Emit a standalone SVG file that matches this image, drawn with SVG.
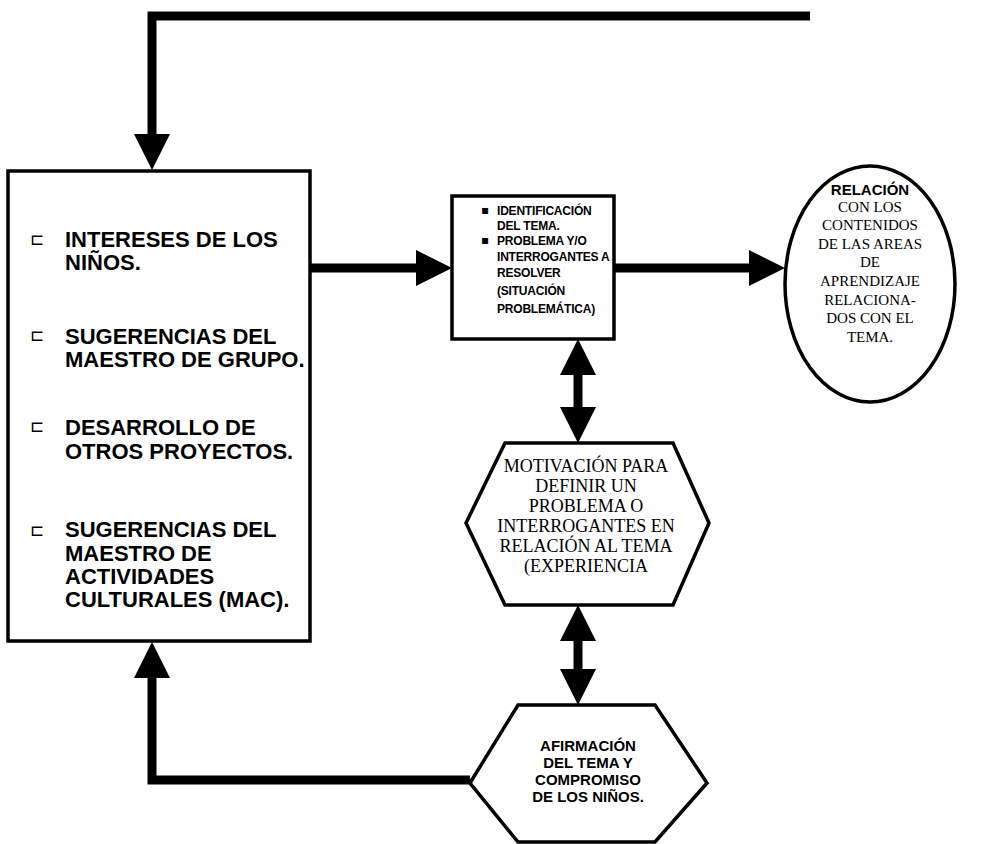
<svg xmlns="http://www.w3.org/2000/svg" width="990" height="844" viewBox="0 0 990 844">
<defs>
<marker id="ah" markerUnits="userSpaceOnUse" markerWidth="38" markerHeight="38" refX="26" refY="18" orient="auto-start-reverse" viewBox="0 0 38 38">
<path d="M0,0 L36,18 L0,36 Z" fill="#000"/>
</marker>
<style>
.shape{fill:#fff;stroke:#000;stroke-width:3.5}
.conn{fill:none;stroke:#000;stroke-width:9;stroke-linejoin:miter}
.bs{font-family:"Liberation Sans",Arial,sans-serif;font-weight:bold;fill:#000}
.sf{font-family:"Liberation Serif","Times New Roman",serif;fill:#000}
.big{font-size:22px}
.mid{font-size:12px;letter-spacing:-0.2px}
.ell{font-size:15px}
.hx1{font-size:18px}
.hx2{font-size:15px}
.bul{font-family:"DejaVu Sans",sans-serif;font-size:17px;fill:#000}
</style>
</defs>
<rect width="990" height="844" fill="#fff"/>

<g id="connectors">
<path class="conn" d="M810,16 H152 V160" marker-end="url(#ah)"/>
<path class="conn" d="M310,268 H442" marker-end="url(#ah)"/>
<path class="conn" d="M614,268 H775" marker-end="url(#ah)"/>
<path class="conn" d="M578,349 V433" marker-start="url(#ah)" marker-end="url(#ah)"/>
<path class="conn" d="M578,615 V695" marker-start="url(#ah)" marker-end="url(#ah)"/>
<path class="conn" d="M470,780 H152 V652" marker-end="url(#ah)"/>
</g>

<g id="origen">
<rect class="shape" x="8" y="171" width="302" height="470"/>
<g class="bul">
<text x="30" y="245">⊏</text>
<text x="30" y="341">⊏</text>
<text x="30" y="432">⊏</text>
<text x="30" y="536">⊏</text>
</g>
<g class="bs big">
<text x="65" y="247">INTERESES DE LOS</text>
<text x="65" y="270">NIÑOS.</text>
<text x="65" y="344">SUGERENCIAS DEL</text>
<text x="65" y="367">MAESTRO DE GRUPO.</text>
<text x="65" y="435">DESARROLLO DE</text>
<text x="65" y="459">OTROS PROYECTOS.</text>
<text x="65" y="537">SUGERENCIAS DEL</text>
<text x="65" y="561">MAESTRO DE</text>
<text x="65" y="584">ACTIVIDADES</text>
<text x="65" y="607">CULTURALES (MAC).</text>
</g>
</g>

<g id="tema">
<rect class="shape" x="452" y="196" width="162" height="143"/>
<g class="bul" style="font-size:12px"><text x="481" y="214">▪</text><text x="481" y="244">▪</text></g>
<g class="bs mid">
<text x="497" y="215">IDENTIFICACIÓN</text>
<text x="497" y="230">DEL TEMA.</text>
<text x="497" y="245">PROBLEMA Y/O</text>
<text x="497" y="261">INTERROGANTES A</text>
<text x="497" y="277">RESOLVER</text>
<text x="497" y="295">(SITUACIÓN</text>
<text x="497" y="313">PROBLEMÁTICA)</text>
</g>
</g>

<g id="relacion">
<ellipse class="shape" cx="870" cy="284" rx="85" ry="118"/>
<text class="bs ell" x="870" y="195" text-anchor="middle">RELACIÓN</text>
<g class="sf ell" text-anchor="middle">
<text x="870" y="212">CON LOS</text>
<text x="870" y="230">CONTENIDOS</text>
<text x="870" y="249">DE LAS AREAS</text>
<text x="870" y="267">DE</text>
<text x="870" y="286">APRENDIZAJE</text>
<text x="870" y="305">RELACIONA-</text>
<text x="870" y="323">DOS CON EL</text>
<text x="870" y="342">TEMA.</text>
</g>
</g>

<g id="motivacion">
<polygon class="shape" points="466,523 505,443 673,443 709,523 673,605 505,605"/>
<g class="sf hx1" text-anchor="middle">
<text x="586" y="472">MOTIVACIÓN PARA</text>
<text x="586" y="492">DEFINIR UN</text>
<text x="586" y="512">PROBLEMA O</text>
<text x="586" y="532">INTERROGANTES EN</text>
<text x="586" y="552">RELACIÓN AL TEMA</text>
<text x="586" y="572">(EXPERIENCIA</text>
</g>
</g>

<g id="afirmacion">
<polygon class="shape" points="470,783 518,705 655,705 707,783 655,842 518,842"/>
<g class="bs hx2" text-anchor="middle">
<text x="588" y="751">AFIRMACIÓN</text>
<text x="588" y="768">DEL TEMA Y</text>
<text x="588" y="785">COMPROMISO</text>
<text x="588" y="802">DE LOS NIÑOS.</text>
</g>
</g>
</svg>
